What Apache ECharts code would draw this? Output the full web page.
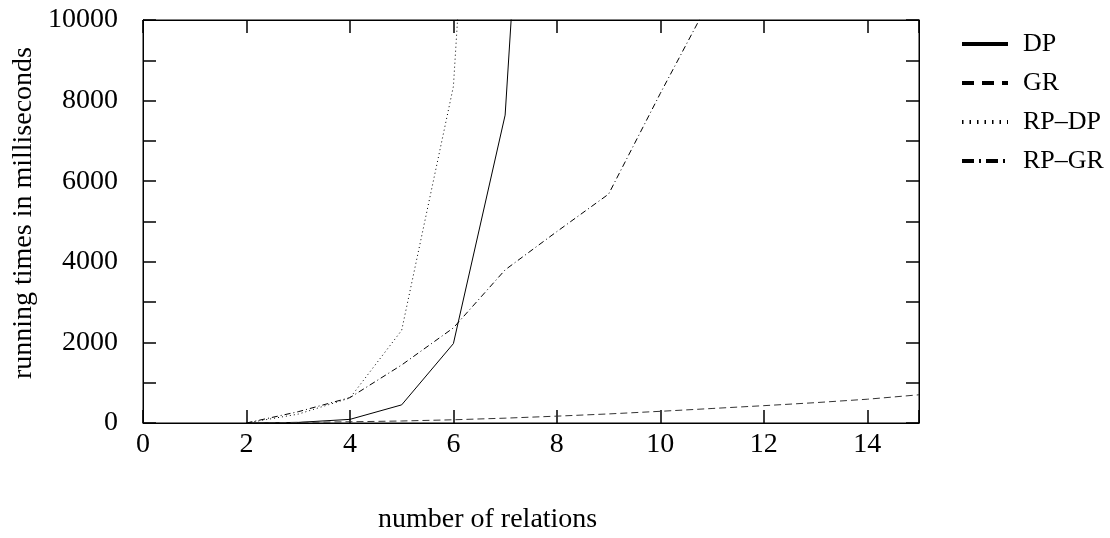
<!DOCTYPE html>
<html>
<head>
<meta charset="utf-8">
<script src="https://cdn.jsdelivr.net/npm/echarts@6/dist/echarts.min.js"></script>
<style>
  html, body { margin: 0; padding: 0; background: #fff; }
  #main { width: 1110px; height: 538px; }
</style>
</head>
<body>
<div id="main"></div>
<script>
// data
var seriesNames = ['DP', 'GR', 'RP–DP', 'RP–GR'];
var dpX = [2, 3, 4, 5, 6, 7, 8];
var dpY = [0, 15, 90, 450, 1970, 7640, 28000];
var grX = [2, 3, 4, 5, 6, 7, 8, 9, 10, 11, 12, 13, 14, 15];
var grY = [5, 15, 30, 50, 80, 120, 170, 225, 290, 360, 430, 505, 590, 700];
var rpdpX = [2, 3, 4, 5, 6, 7];
var rpdpY = [0, 220, 620, 2300, 8350, 29000];
var rpgrX = [2, 3, 4, 5, 6, 7, 8, 9, 10, 11];
var rpgrY = [0, 280, 630, 1440, 2360, 3800, 4750, 5680, 8180, 10600];

function pairs(xs, ys) {
    return xs.map(function (x, i) { return [x, ys[i]]; });
}

var FONT = 'Liberation Serif';

var myChart = echarts.init(document.getElementById('main'));

function xAx(pos, labels) {
    return {
        type: 'value', position: pos, min: 0, max: 15, interval: 2,
        axisLine: { show: true, onZero: false, lineStyle: { color: '#000', width: 1 } },
        axisTick: { show: true, inside: true, length: 13, lineStyle: { color: '#000', width: 1.5 } },
        axisLabel: {
            show: labels, color: '#000', fontFamily: FONT, fontSize: 28, margin: 8,
            formatter: function (v) { return v === 15 ? '' : v; }
        },
        splitLine: { show: false }
    };
}
function yAx(pos, labels) {
    return {
        type: 'value', position: pos, min: 0, max: 10000, interval: 1000,
        axisLine: { show: true, onZero: false, lineStyle: { color: '#000', width: 1 } },
        axisTick: { show: true, inside: true, length: 13, lineStyle: { color: '#000', width: 1.5 } },
        axisLabel: {
            show: labels, color: '#000', fontFamily: FONT, fontSize: 28, margin: 25,
            formatter: function (v) { return v % 2000 === 0 ? v : ''; }
        },
        splitLine: { show: false }
    };
}

var option = {
    animation: false,
    grid: { left: 143, right: 191, top: 20, bottom: 115, show: true, borderColor: '#000', borderWidth: 1 },
    xAxis: [xAx('bottom', true), xAx('top', false)],
    yAxis: [yAx('left', true), yAx('right', false)],
    legend: {
        orient: 'vertical', left: 955, top: 26, itemGap: 13,
        itemWidth: 46, itemHeight: 14,
        textStyle: { fontFamily: FONT, fontSize: 26, color: '#000', padding: [0, 0, 0, 10] },
        itemStyle: { opacity: 0, color: 'transparent', borderWidth: 0 },
        lineStyle: { width: 4, color: '#000' },
        data: [
            { name: seriesNames[0], lineStyle: { type: 'solid' } },
            { name: seriesNames[1], lineStyle: { type: [12, 8] } },
            { name: seriesNames[2], lineStyle: { type: [1.5, 6] } },
            { name: seriesNames[3], lineStyle: { type: [12, 5, 2, 5] } }
        ]
    },
    graphic: [
        {
            type: 'text', left: 10, top: 47, rotation: Math.PI / 2,
            style: { text: 'running times in milliseconds', font: '28px "Liberation Serif"', fill: '#000' }
        },
        {
            type: 'text', left: 378, top: 506,
            style: { text: 'number of relations', font: '28px "Liberation Serif"', fill: '#000' }
        }
    ],
    series: [
        { name: seriesNames[0], type: 'line', symbol: 'none', data: pairs(dpX, dpY),
          lineStyle: { color: '#000', width: 1, type: 'solid' } },
        { name: seriesNames[1], type: 'line', symbol: 'none', data: pairs(grX, grY),
          lineStyle: { color: '#333', width: 1, type: [7, 4] } },
        { name: seriesNames[2], type: 'line', symbol: 'none', data: pairs(rpdpX, rpdpY),
          lineStyle: { color: '#000', width: 1, type: [1, 3] } },
        { name: seriesNames[3], type: 'line', symbol: 'none', data: pairs(rpgrX, rpgrY),
          lineStyle: { color: '#000', width: 1, type: [6, 3, 1, 3] } }
    ]
};

myChart.setOption(option);
window.onresize = function () {
    myChart.resize();
};
</script>
</body>
</html>
